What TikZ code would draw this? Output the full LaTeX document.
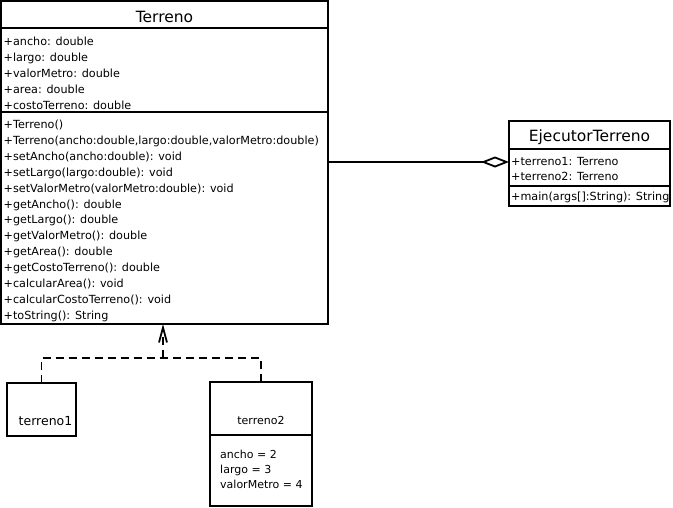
\documentclass[tikz,border=0pt]{standalone}
\usepackage{fontspec}
\setmainfont{DejaVu Sans}
\usetikzlibrary{arrows.meta,positioning}

\begin{document}
\begin{tikzpicture}[x=1pt,y=-1pt,line join=miter,
  part/.style={draw,line width=1.5pt,inner sep=0pt,outer sep=0pt,anchor=north west},
  member/.style={anchor=base west,inner sep=0pt,font=\fontsize{11.2}{13}\selectfont},
  cname/.style={anchor=base,inner sep=0pt,font=\fontsize{15.5}{18}\selectfont},
  dep/.style={line width=1.5pt,dash pattern=on 8pt off 5pt}]
\useasboundingbox[fill=white] (0,0) rectangle (673,507);
% --- class Terreno
\node[part,minimum width=327pt,minimum height=27pt] (terreno-name) at (1,1) {};
\node[part,minimum width=327pt,minimum height=84pt] (terreno-attr) at (1,28) {};
\node[part,minimum width=327pt,minimum height=212pt] (terreno-ops) at (1,112) {};
\node[cname] (terreno-title) at (164.5,22) {Terreno};
\foreach \m [count=\i] in {+ancho: double,+largo: double,+valorMetro: double,+area: double,+costoTerreno: double}
  \node[member] (terreno-a\i) at (3.5,45+16*\i-16) {\m};
\foreach \m [count=\i] in {+Terreno(),{+Terreno(ancho:double,largo:double,valorMetro:double)},
    +setAncho(ancho:double): void,+setLargo(largo:double): void,+setValorMetro(valorMetro:double): void,
    +getAncho(): double,+getLargo(): double,+getValorMetro(): double,+getArea(): double,
    +getCostoTerreno(): double,+calcularArea(): void,+calcularCostoTerreno(): void,+toString(): String}
  \node[member] (terreno-o\i) at (3.5,128.5+15.9*\i-15.9) {\m};
% --- class EjecutorTerreno
\node[part,minimum width=161pt,minimum height=28pt] (ejec-name) at (509,121) {};
\node[part,minimum width=161pt,minimum height=37pt] (ejec-attr) at (509,149) {};
\node[part,minimum width=161pt,minimum height=20pt] (ejec-ops) at (509,186) {};
\node[cname] (ejec-title) at (589.5,141.7) {EjecutorTerreno};
\node[member] (ejec-a1) at (511,165.5) {+terreno1: Terreno};
\node[member] (ejec-a2) at (511,180.5) {+terreno2: Terreno};
\node[member] (ejec-o1) at (511,200) {+main(args[]:String): String};
% aggregation
\coordinate (agg) at (509,162);
\draw[line width=1.5pt,-{Diamond[open,length=28pt,width=11pt,line width=1.8pt]}] (terreno-ops.east |- agg) -- (agg);
% --- objects
\node[part,minimum width=69pt,minimum height=53pt] (terreno1) at (7,383) {};
\node[anchor=base,inner sep=0pt,font=\fontsize{12.5}{14}\selectfont] (terreno1-label) at (45.5,425) {terreno1};
\node[part,line width=1.2pt,minimum width=102pt,minimum height=53pt] (terreno2) at (210,382) {};
\node[part,line width=1.2pt,minimum width=102pt,minimum height=71pt] (terreno2-vals) at (210,435) {};
\node[anchor=base,inner sep=0pt,font=\fontsize{11}{13}\selectfont] (terreno2-label) at (261,424) {terreno2};
\foreach \v [count=\i] in {ancho = 2,largo = 3,valorMetro = 4}
  \node[member,font=\fontsize{11}{13}\selectfont] (terreno2-v\i) at (220,458.3+15*\i-15) {\v};
% instance-of links
\coordinate (join) at (163,358);
\draw[dep] (terreno1.north) |- (join);
\draw[dep] (terreno2.north) |- (join);
\draw[dep,-{Straight Barb[length=15pt,width=8pt,line width=1.8pt]}] (join) -- (terreno-ops.south -| join);
\end{tikzpicture}
\end{document}
